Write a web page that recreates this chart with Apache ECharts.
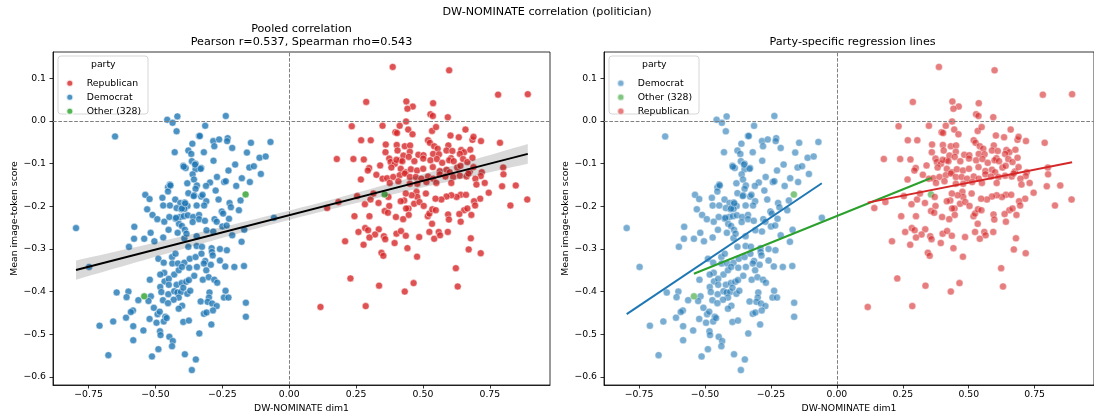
<!DOCTYPE html>
<html><head><meta charset="utf-8">
<script src="https://cdn.jsdelivr.net/npm/echarts@6/dist/echarts.min.js"></script>
<style>html,body{margin:0;padding:0;background:#fff}#c{width:1094px;height:418px}</style>
</head><body><div id="c"></div>
<script>
// ---- data (DW-NOMINATE dim1, mean image-token score) ----
const democrat = [
[-0.797,-0.251],[-0.651,-0.036],[-0.456,0.003],[-0.436,-0.004],[-0.418,0.011],[-0.421,-0.024],[-0.237,0.012],[-0.314,-0.011],[-0.337,-0.035],[-0.334,-0.035],
[-0.362,-0.053],[-0.284,-0.047],[-0.262,-0.043],[-0.230,-0.040],[-0.232,-0.047],[-0.213,-0.063],[-0.280,-0.059],[-0.428,-0.073],[-0.377,-0.069],[-0.366,-0.077],
[-0.319,-0.073],[-0.143,-0.051],[-0.070,-0.049],[-0.158,-0.074],[-0.111,-0.086],[-0.088,-0.083],[-0.364,-0.094],[-0.350,-0.100],[-0.283,-0.093],[-0.396,-0.105],
[-0.387,-0.110],[-0.329,-0.110],[-0.350,-0.113],[-0.202,-0.102],[-0.227,-0.116],[-0.149,-0.109],[-0.132,-0.106],[-0.106,-0.124],[-0.361,-0.125],[-0.356,-0.137],
[-0.296,-0.144],[-0.270,-0.131],[-0.243,-0.143],[-0.237,-0.141],[-0.381,-0.146],[-0.177,-0.134],[-0.147,-0.143],[-0.453,-0.155],[-0.446,-0.149],[-0.345,-0.151],
[-0.350,-0.159],[-0.311,-0.152],[-0.329,-0.177],[-0.275,-0.163],[-0.198,-0.152],[-0.182,-0.186],[-0.188,-0.209],[-0.453,-0.165],[-0.538,-0.173],[-0.522,-0.183],
[-0.474,-0.180],[-0.426,-0.184],[-0.407,-0.192],[-0.391,-0.191],[-0.380,-0.199],[-0.421,-0.204],[-0.403,-0.207],[-0.392,-0.206],[-0.377,-0.169],[-0.355,-0.174],
[-0.324,-0.173],[-0.310,-0.188],[-0.264,-0.184],[-0.223,-0.192],[-0.218,-0.202],[-0.531,-0.207],[-0.471,-0.198],[-0.446,-0.198],[-0.425,-0.229],[-0.408,-0.225],
[-0.394,-0.223],[-0.379,-0.221],[-0.346,-0.198],[-0.318,-0.198],[-0.359,-0.225],[-0.337,-0.220],[-0.252,-0.212],[-0.247,-0.217],[-0.225,-0.229],[-0.511,-0.220],
[-0.493,-0.230],[-0.467,-0.236],[-0.448,-0.225],[-0.579,-0.248],[-0.518,-0.262],[-0.451,-0.255],[-0.412,-0.241],[-0.401,-0.246],[-0.390,-0.255],[-0.361,-0.237],
[-0.337,-0.230],[-0.315,-0.234],[-0.279,-0.230],[-0.271,-0.236],[-0.250,-0.247],[-0.234,-0.245],[-0.213,-0.268],[-0.168,-0.255],[-0.178,-0.283],[-0.580,-0.276],
[-0.542,-0.276],[-0.504,-0.282],[-0.471,-0.273],[-0.417,-0.262],[-0.392,-0.275],[-0.384,-0.264],[-0.346,-0.270],[-0.309,-0.256],[-0.284,-0.259],[-0.599,-0.295],
[-0.377,-0.295],[-0.346,-0.293],[-0.326,-0.295],[-0.290,-0.298],[-0.259,-0.300],[-0.057,-0.227],
[-0.352,-0.102],[-0.394,-0.107],[-0.401,-0.205],[-0.389,-0.193],[-0.423,-0.227],[-0.357,-0.176],[-0.331,-0.112],[-0.444,-0.151],
[-0.748,-0.342],[-0.489,-0.323],[-0.469,-0.332],[-0.438,-0.319],[-0.425,-0.311],[-0.437,-0.334],[-0.416,-0.334],[-0.392,-0.332],[-0.372,-0.323],[-0.350,-0.319],
[-0.328,-0.311],[-0.314,-0.328],[-0.289,-0.307],[-0.286,-0.315],[-0.259,-0.327],[-0.233,-0.303],[-0.239,-0.341],[-0.205,-0.342],[-0.169,-0.340],[-0.467,-0.356],
[-0.482,-0.360],[-0.430,-0.360],[-0.413,-0.350],[-0.401,-0.342],[-0.374,-0.344],[-0.355,-0.363],[-0.345,-0.342],[-0.319,-0.334],[-0.293,-0.337],[-0.310,-0.350],
[-0.521,-0.372],[-0.466,-0.376],[-0.450,-0.370],[-0.482,-0.389],[-0.450,-0.384],[-0.421,-0.384],[-0.402,-0.380],[-0.385,-0.377],[-0.375,-0.373],[-0.323,-0.372],
[-0.301,-0.366],[-0.280,-0.372],[-0.269,-0.379],[-0.645,-0.402],[-0.601,-0.400],[-0.608,-0.413],[-0.517,-0.411],[-0.564,-0.420],[-0.526,-0.422],[-0.478,-0.401],
[-0.452,-0.406],[-0.472,-0.420],[-0.430,-0.399],[-0.418,-0.402],[-0.405,-0.401],[-0.396,-0.391],[-0.413,-0.414],[-0.381,-0.405],[-0.370,-0.398],[-0.298,-0.402],
[-0.300,-0.414],[-0.331,-0.423],[-0.305,-0.424],[-0.238,-0.398],[-0.244,-0.414],[-0.227,-0.414],[-0.288,-0.428],[-0.271,-0.434],[-0.162,-0.426],[-0.162,-0.459],
[-0.584,-0.444],[-0.592,-0.448],[-0.610,-0.461],[-0.658,-0.470],[-0.709,-0.480],[-0.506,-0.438],[-0.492,-0.453],[-0.484,-0.447],[-0.432,-0.419],[-0.453,-0.427],
[-0.400,-0.433],[-0.413,-0.440],[-0.522,-0.464],[-0.496,-0.473],[-0.463,-0.459],[-0.469,-0.470],[-0.458,-0.462],[-0.396,-0.471],[-0.375,-0.468],[-0.319,-0.452],
[-0.309,-0.449],[-0.285,-0.444],[-0.291,-0.477],[-0.583,-0.481],[-0.545,-0.491],[-0.583,-0.514],[-0.483,-0.493],[-0.481,-0.502],[-0.448,-0.506],[-0.435,-0.516],
[-0.438,-0.528],[-0.336,-0.498],[-0.489,-0.535],[-0.513,-0.552],[-0.676,-0.549],[-0.390,-0.547],[-0.349,-0.559],[-0.364,-0.584]
];
const republican = [
[0.387,0.127],[0.598,0.119],[0.781,0.062],[0.892,0.063],[0.288,0.045],[0.438,0.046],[0.462,0.034],[0.442,0.029],[0.538,0.042],[0.528,0.016],
[0.537,0.012],[0.593,0.009],[0.234,-0.012],[0.349,-0.011],[0.413,-0.011],[0.437,-0.001],[0.445,-0.020],[0.397,-0.026],[0.403,-0.028],[0.461,-0.031],
[0.534,-0.023],[0.549,-0.014],[0.659,-0.020],[0.269,-0.045],[0.305,-0.045],[0.361,-0.055],[0.402,-0.056],[0.432,-0.059],[0.452,-0.057],[0.519,-0.045],
[0.526,-0.051],[0.542,-0.059],[0.555,-0.065],[0.595,-0.057],[0.603,-0.034],[0.634,-0.038],[0.685,-0.044],[0.689,-0.037],[0.717,-0.047],[0.788,-0.051],
[0.360,-0.073],[0.405,-0.069],[0.416,-0.092],[0.427,-0.081],[0.451,-0.072],[0.483,-0.079],[0.502,-0.080],[0.538,-0.077],[0.560,-0.078],[0.588,-0.069],
[0.610,-0.070],[0.643,-0.068],[0.654,-0.073],[0.677,-0.067],[0.605,-0.087],[0.638,-0.077],[0.178,-0.089],[0.240,-0.089],[0.279,-0.090],[0.340,-0.104],
[0.374,-0.088],[0.379,-0.096],[0.395,-0.100],[0.382,-0.109],[0.401,-0.091],[0.423,-0.094],[0.447,-0.084],[0.468,-0.094],[0.501,-0.088],[0.528,-0.092],
[0.552,-0.089],[0.572,-0.098],[0.598,-0.092],[0.615,-0.094],[0.650,-0.089],[0.666,-0.096],[0.685,-0.086],[0.299,-0.110],[0.294,-0.116],[0.326,-0.126],
[0.268,-0.137],[0.349,-0.135],[0.366,-0.134],[0.417,-0.112],[0.436,-0.120],[0.455,-0.113],[0.478,-0.116],[0.501,-0.112],[0.537,-0.108],[0.563,-0.117],
[0.588,-0.114],[0.600,-0.120],[0.628,-0.109],[0.640,-0.105],[0.675,-0.118],[0.689,-0.108],[0.720,-0.120],[0.800,-0.109],[0.801,-0.125],[0.389,-0.131],
[0.413,-0.127],[0.432,-0.123],[0.451,-0.131],[0.473,-0.131],[0.494,-0.135],[0.519,-0.130],[0.538,-0.135],[0.563,-0.125],[0.584,-0.130],[0.613,-0.131],
[0.638,-0.128],[0.663,-0.130],[0.716,-0.129],[0.696,-0.135],[0.670,-0.123],[0.376,-0.145],[0.408,-0.141],[0.451,-0.147],[0.479,-0.147],[0.513,-0.143],
[0.550,-0.145],[0.606,-0.145],[0.700,-0.149],[0.731,-0.145],[0.796,-0.153],[0.847,-0.151],
[0.746,-0.168],[0.714,-0.182],[0.691,-0.188],[0.695,-0.198],[0.654,-0.209],[0.636,-0.218],[0.681,-0.220],[0.666,-0.205],[0.890,-0.184],[0.827,-0.198],
[0.641,-0.173],[0.626,-0.178],[0.661,-0.173],[0.606,-0.174],[0.588,-0.177],[0.569,-0.184],[0.547,-0.182],[0.511,-0.170],[0.476,-0.166],[0.479,-0.178],
[0.458,-0.174],[0.436,-0.170],[0.430,-0.186],[0.467,-0.194],[0.487,-0.190],[0.503,-0.199],[0.417,-0.188],[0.446,-0.205],[0.371,-0.178],[0.374,-0.199],
[0.334,-0.192],[0.304,-0.184],[0.283,-0.195],[0.254,-0.176],[0.315,-0.170],[0.184,-0.190],[0.142,-0.204],[0.300,-0.223],[0.244,-0.223],[0.259,-0.260],
[0.284,-0.251],[0.295,-0.256],[0.335,-0.254],[0.321,-0.266],[0.300,-0.273],[0.278,-0.290],[0.209,-0.282],[0.354,-0.270],[0.359,-0.277],[0.357,-0.211],
[0.369,-0.215],[0.399,-0.225],[0.426,-0.230],[0.437,-0.205],[0.447,-0.220],[0.401,-0.264],[0.418,-0.258],[0.436,-0.269],[0.394,-0.286],[0.486,-0.272],
[0.524,-0.260],[0.542,-0.276],[0.559,-0.260],[0.564,-0.268],[0.593,-0.260],[0.534,-0.241],[0.518,-0.223],[0.524,-0.217],[0.535,-0.207],[0.548,-0.209],
[0.594,-0.219],[0.597,-0.231],[0.641,-0.236],[0.442,-0.298],[0.345,-0.309],[0.352,-0.316],[0.478,-0.318],[0.679,-0.275],[0.671,-0.301],[0.716,-0.310],
[0.623,-0.345],[0.229,-0.369],[0.336,-0.386],[0.432,-0.400],[0.465,-0.380],[0.630,-0.388],[0.117,-0.436],[0.286,-0.434]
];
const other = [[-0.542,-0.411],[-0.163,-0.172],[0.357,-0.172]];

const xTicks = [-0.75,-0.5,-0.25,0,0.25,0.5,0.75];
const yTicks = [-0.6,-0.5,-0.4,-0.3,-0.2,-0.1,0,0.1];
const legendLeftOrder = ['Republican','Democrat','Other (328)'];
const legendRightOrder = ['Democrat','Other (328)','Republican'];
const suptitle = 'DW-NOMINATE correlation (politician)';
const leftTitle = ['Pooled correlation','Pearson r=0.537, Spearman rho=0.543'];
const rightTitle = 'Party-specific regression lines';
const xLabel = 'DW-NOMINATE dim1';
const yLabel = 'Mean image-token score';

// ---- style ----
const FONT = 'DejaVu Sans';
const COL = {'Republican':'#d62728','Democrat':'#1f77b4','Other (328)':'#2ca02c'};
const PTS = {'Republican':republican,'Democrat':democrat,'Other (328)':other};
const XMIN=-0.883, XMAX=0.975, YMIN=-0.619, YMAX=0.162;

function ols(pts){
  const n=pts.length; let mx=0,my=0;
  pts.forEach(p=>{mx+=p[0];my+=p[1];}); mx/=n; my/=n;
  let sxx=0,sxy=0;
  pts.forEach(p=>{sxx+=(p[0]-mx)*(p[0]-mx); sxy+=(p[0]-mx)*(p[1]-my);});
  const b=sxy/sxx, a=my-b*mx;
  let sse=0; pts.forEach(p=>{const r=p[1]-(a+b*p[0]); sse+=r*r;});
  const s=Math.sqrt(sse/(n-2));
  const xs=pts.map(p=>p[0]);
  return {a,b,mx,sxx,s,n,x0:Math.min(...xs),x1:Math.max(...xs)};
}
function fitLine(f){return [[f.x0,f.a+f.b*f.x0],[f.x1,f.a+f.b*f.x1]];}

const pooled = ols(democrat.concat(republican, other));
const band = (function(){
  const up=[],lo=[],N=60;
  for(let i=0;i<=N;i++){
    const x=pooled.x0+(pooled.x1-pooled.x0)*i/N;
    const y=pooled.a+pooled.b*x;
    const h=1.96*pooled.s*Math.sqrt(1/pooled.n+(x-pooled.mx)*(x-pooled.mx)/pooled.sxx);
    up.push([x,y+h]); lo.push([x,y-h]);
  }
  return up.concat(lo.reverse());
})();

function fmt(d){return v=>{const t=Math.abs(v)<1e-9?0:v; return t.toFixed(d).replace('-','\u2212');};}
const tickStyle={color:'#000',width:0.8};
function xAxis(gi){return {gridIndex:gi,type:'value',min:XMIN,max:XMAX,
  axisLine:{show:true,onZero:false,lineStyle:tickStyle},
  axisTick:{show:true,customValues:xTicks,length:3.5,lineStyle:tickStyle},
  axisLabel:{customValues:xTicks,formatter:fmt(2),color:'#000',fontSize:9.3,fontFamily:FONT,margin:5},
  splitLine:{show:false},name:xLabel,nameLocation:'middle',nameGap:19,
  nameTextStyle:{color:'#000',fontSize:9.3,fontFamily:FONT}};}
function yAxis(gi){return {gridIndex:gi,type:'value',min:YMIN,max:YMAX,
  axisLine:{show:true,onZero:false,lineStyle:tickStyle},
  axisTick:{show:true,customValues:yTicks,length:3.5,lineStyle:tickStyle},
  axisLabel:{customValues:yTicks,formatter:fmt(1),color:'#000',fontSize:9.3,fontFamily:FONT,margin:7},
  splitLine:{show:false},name:yLabel,nameLocation:'middle',nameGap:34,
  nameTextStyle:{color:'#000',fontSize:9.3,fontFamily:FONT}};}

function scatter(name,gi,op){return {type:'scatter',name:name,xAxisIndex:gi,yAxisIndex:gi,
  data:PTS[name],symbolSize:7,z:2,
  itemStyle:{color:COL[name],opacity:op,borderColor:'#fff',borderWidth:0.6}};}
function zeroLines(gi){return {type:'line',xAxisIndex:gi,yAxisIndex:gi,data:[],silent:true,
  markLine:{silent:true,symbol:'none',label:{show:false},animation:false,
    lineStyle:{color:'#808080',type:[3.7,1.6],width:1},data:[{xAxis:0},{yAxis:0}]}};}
function regLine(data,color,gi){return {type:'line',xAxisIndex:gi,yAxisIndex:gi,data:data,
  symbol:'none',silent:true,z:5,lineStyle:{color:color,width:2},animation:false};}

const series=[
  zeroLines(0), zeroLines(1),
  scatter('Republican',0,0.8), scatter('Democrat',0,0.8), scatter('Other (328)',0,0.8),
  {type:'custom',xAxisIndex:0,yAxisIndex:0,data:[[pooled.x0,pooled.a]],silent:true,z:4,
   renderItem:(params,api)=>({type:'polygon',shape:{points:band.map(p=>api.coord(p))},
     style:{fill:'rgba(0,0,0,0.15)'}})},
  regLine(fitLine(pooled),'#000',0),
  scatter('Democrat',1,0.6), scatter('Other (328)',1,0.6), scatter('Republican',1,0.6),
  regLine(fitLine(ols(democrat)),COL['Democrat'],1),
  regLine(fitLine(ols(other)),COL['Other (328)'],1),
  regLine(fitLine(ols(republican)),COL['Republican'],1)
];

function legend(order,left,op){return {data:order.map(n=>({name:n,itemStyle:{opacity:op}})),
  orient:'vertical',left:left,top:72.8,itemWidth:24,itemHeight:7,itemGap:3,icon:'circle',
  selectedMode:false,textStyle:{fontSize:9.3,fontFamily:FONT,color:'#000',lineHeight:11}};}
function legendBox(x){return [
  {type:'rect',shape:{x:x,y:56,width:90,height:58,r:3},z:10,
   style:{fill:'rgba(255,255,255,0.8)',stroke:'#cccccc',lineWidth:0.8}},
  {type:'text',x:x+45.3,y:64.3,z:11,style:{text:'party',fontSize:9.3,fontFamily:FONT,fill:'#000',align:'center',verticalAlign:'middle'}}];}
function txt(t,x,y,size){return {type:'text',x:x,y:y,style:{text:t,fontSize:size,fontFamily:FONT,fill:'#000',align:'center',verticalAlign:'middle'}};}

const chart=echarts.init(document.getElementById('c'),null,{renderer:'canvas'});
chart.setOption({
  animation:false,backgroundColor:'#fff',
  grid:[{left:53,top:52,width:497,height:333,show:true,borderColor:'#000',borderWidth:0.8},
        {left:604,top:52,width:497,height:333,show:true,borderColor:'#000',borderWidth:0.8}],
  xAxis:[xAxis(0),xAxis(1)], yAxis:[yAxis(0),yAxis(1)],
  legend:[Object.assign(legend(legendLeftOrder,60.3,0.8),{z:12}),Object.assign(legend(legendRightOrder,611.3,0.6),{z:12})],
  graphic:[].concat(legendBox(58),legendBox(609),[
    txt(suptitle,547,12,11.2), txt(leftTitle[0],301.5,29.3,11.2), txt(leftTitle[1],301.5,42.3,11.2),
    txt(rightTitle,852.5,42.3,11.2)]),
  series:series
});
</script></body></html>
